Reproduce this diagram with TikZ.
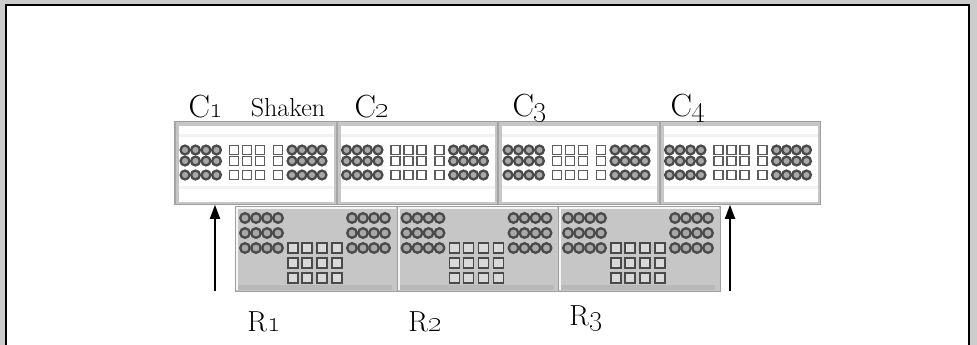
\documentclass[tikz,border=0pt]{standalone}
\usetikzlibrary{arrows.meta}
\definecolor{framegray}{HTML}{CCCCCC}
\definecolor{ringcol}{HTML}{4A4A4A}
\definecolor{ringfill}{HTML}{A8A8A8}
\definecolor{botfill}{HTML}{C6C6C6}
\tikzset{
  topbox/.style={draw=gray!75, line width=0.8pt, fill=gray!45, minimum width=161.5pt, minimum height=83pt, anchor=north west, inner sep=0pt},
  botbox/.style={draw=gray!75, line width=0.8pt, fill=botfill, minimum width=161.5pt, minimum height=85pt, anchor=north west, inner sep=0pt},
  ringA/.style={draw=ringcol, line width=2.3pt, fill=ringfill},
  sqA/.style={draw=ringcol!90, line width=1.3pt, fill=white},
  sqB/.style={draw=ringcol, line width=1.7pt, fill=gray!30},
  lab/.style={font=\fontsize{32}{34}\selectfont, inner sep=0pt},
  rlab/.style={font=\fontsize{29}{31}\selectfont, inner sep=0pt},
  arr/.style={line width=1.8pt, -{Triangle[length=14pt,width=10pt]}}
}
\begin{document}
\begin{tikzpicture}[x=1pt,y=-1pt]
\useasboundingbox (0,0) rectangle (977,345);
\fill[framegray] (0,0) rectangle (977,345);
\fill[black] (5,4) rectangle (970,345);
\fill[white] (7,6) rectangle (968,345);
% top boxes
\foreach \i/\n in {0/C1,1/C2,2/C3,3/C4}{
  \pgfmathsetmacro{\xo}{174+161.5*\i}
  \node[topbox] (box\n) at (\xo,121) {};
  \fill[gray!70] (\xo+0.5,121.5) rectangle (\xo+2,203.5);
  \fill[white] (\xo+5,126) rectangle (\xo+159.5,202);
  \fill[gray!10] (\xo+5,134) rectangle (\xo+159.5,137);
  \fill[gray!10] (\xo+5,186) rectangle (\xo+159.5,189);
  \foreach \yy in {150,161,175}{
    \foreach \cx in {11,21.5,32,42.5,118,128,138,148}
      \draw[ringA] (\xo+\cx,\yy) circle (4.4);
    \foreach \sx in {60,73,86,104}
      \draw[sqA] (\xo+\sx-4.5,\yy-4.5) rectangle (\xo+\sx+4.5,\yy+4.5);
  }
}
% bottom boxes
\foreach \i/\n in {0/R1,1/R2,2/R3}{
  \pgfmathsetmacro{\xo}{235+161.5*\i}
  \node[botbox] (box\n) at (\xo,206) {};
  \fill[gray!8] (\xo+1,207) rectangle (\xo+160.5,209);
  \fill[gray!8] (\xo+1,207) rectangle (\xo+3,290);
  \fill[gray!55] (\xo+3,285) rectangle (\xo+160.5,290);
  \fill[gray!45] (\xo+157,209) rectangle (\xo+160.5,290);
  \foreach \yy in {218,233,248}{
    \foreach \cx in {10,21,32,43,117,128,139,150}
      \draw[ringA] (\xo+\cx,\yy) circle (4.8);
  }
  \foreach \yy in {248,263,278}{
    \foreach \sx in {58,72,87,102}
      \draw[sqB] (\xo+\sx-5,\yy-5) rectangle (\xo+\sx+5,\yy+5);
  }
}
% labels
\node[lab] (lC1) at (206,107) {C\oldstylenums{1}};
\node[font=\fontsize{26}{28}\selectfont, inner sep=0pt] (lSh) at (288,108) {Shaken};
\node[lab] (lC2) at (372,107) {C\oldstylenums{2}};
\node[lab] (lC3) at (530,108) {C\oldstylenums{3}};
\node[lab] (lC4) at (688,108) {C\oldstylenums{4}};
\node[rlab] (lR1) at (264,322) {R\oldstylenums{1}};
\node[rlab] (lR2) at (425,322) {R\oldstylenums{2}};
\node[rlab] (lR3) at (586,318) {R\oldstylenums{3}};
% arrows
\coordinate (a1) at (215,291);
\coordinate (a2) at (730,291);
\draw[arr] (a1) -- (a1 |- boxC1.south);
\draw[arr] (a2) -- (a2 |- boxC4.south);
\end{tikzpicture}
\end{document}
